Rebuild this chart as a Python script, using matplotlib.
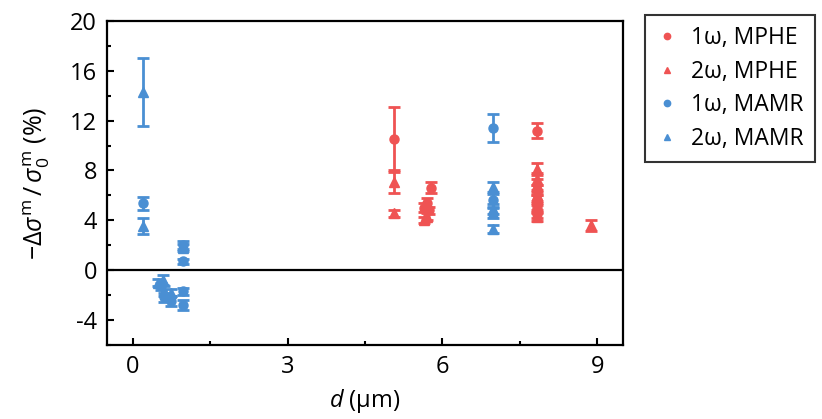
import matplotlib
matplotlib.use('Agg')
import matplotlib.pyplot as plt
from matplotlib.ticker import MultipleLocator

plt.rcParams['font.family'] = ['Open Sans', 'DejaVu Sans']
plt.rcParams['mathtext.fontset'] = 'custom'
plt.rcParams['mathtext.rm'] = 'Open Sans'
plt.rcParams['mathtext.it'] = 'Open Sans:italic'
plt.rcParams['axes.unicode_minus'] = False

RED = '#EF5353'
BLUE = '#4A8FD3'

# 1w, MPHE (circles)
mphe1_x = [5.07, 5.78, 5.70, 5.65, 5.75, 7.83, 7.83, 7.83, 7.83, 7.83]
mphe1_y = [10.5, 6.6, 5.4, 5.0, 4.8, 11.2, 6.4, 5.6, 5.0, 4.5]
mphe1_err = [2.6, 0.45, 0.4, 0.35, 0.3, 0.6, 0.4, 0.4, 0.4, 0.35]

# 2w, MPHE (triangles)
mphe2_x = [5.07, 5.07, 5.65, 5.70, 7.83, 7.83, 7.83, 7.83, 7.83, 8.88]
mphe2_y = [7.1, 4.55, 4.0, 4.3, 8.1, 7.3, 6.8, 6.0, 4.3, 3.6]
mphe2_err = [0.9, 0.25, 0.25, 0.3, 0.5, 0.5, 0.5, 0.45, 0.35, 0.45]

# 1w, MAMR (circles)
mamr1_x = [0.20, 0.97, 0.97, 0.55, 0.60, 0.75, 0.97, 0.97, 6.98, 6.98]
mamr1_y = [5.35, 0.7, 2.0, -1.3, -2.2, -2.5, -1.7, -2.8, 11.4, 5.6]
mamr1_err = [0.55, 0.2, 0.3, 0.3, 0.4, 0.4, 0.3, 0.4, 1.1, 0.5]

# 2w, MAMR (triangles)
mamr2_x = [0.20, 0.20, 0.97, 0.50, 0.58, 0.60, 0.75, 6.98, 6.98, 6.98, 6.98]
mamr2_y = [14.3, 3.55, 1.8, -1.0, -0.8, -1.7, -1.8, 6.7, 4.9, 4.6, 3.3]
mamr2_err = [2.7, 0.65, 0.3, 0.3, 0.4, 0.4, 0.3, 0.4, 0.4, 0.4, 0.3]

labels = ['1ω, MPHE', '2ω, MPHE', '1ω, MAMR', '2ω, MAMR']

fig = plt.figure(figsize=(8.22, 4.19), dpi=100)
ax = fig.add_axes([0.130, 0.177, 0.628, 0.773])

ax.axhline(0, color='black', lw=1.6, zorder=1)

series = [
    (mphe1_x, mphe1_y, mphe1_err, RED, 'o'),
    (mphe2_x, mphe2_y, mphe2_err, RED, '^'),
    (mamr1_x, mamr1_y, mamr1_err, BLUE, 'o'),
    (mamr2_x, mamr2_y, mamr2_err, BLUE, '^'),
]
conts = []
for x, y, e, c, m in series:
    cont = ax.errorbar(x, y, yerr=e, fmt=m, color=c, ms=6.5, capsize=4.5,
                       elinewidth=2, capthick=2, zorder=3)
    conts.append(cont)

ax.set_xlim(-0.5, 9.5)
ax.set_ylim(-6, 20)
ax.xaxis.set_major_locator(MultipleLocator(3))
ax.xaxis.set_minor_locator(MultipleLocator(1.5))
ax.yaxis.set_major_locator(MultipleLocator(4))
ax.yaxis.set_minor_locator(MultipleLocator(2))
ax.tick_params(which='both', direction='in', width=1.5, labelsize=17,
               top=False, right=False)
ax.tick_params(which='major', length=5, pad=7)
ax.tick_params(which='minor', length=3)
for s in ax.spines.values():
    s.set_linewidth(1.6)

ax.set_xlabel(r'$\mathit{d}$ (μm)', fontsize=17, labelpad=6)
ax.set_ylabel(r'$-\mathit{\Delta\sigma}^{\rm m}\,/\,\mathit{\sigma}_{\rm 0}^{\rm m}$ (%)',
              fontsize=18, labelpad=13)

leg = fig.legend(handles=[c.lines[0] for c in conts], labels=labels,
                 loc='upper left', bbox_to_anchor=(0.785, 0.965),
                 fontsize=16.5, frameon=True, fancybox=False, markerscale=0.7,
                 handlelength=0.9, handletextpad=0.6, labelspacing=0.42,
                 borderpad=0.5, borderaxespad=0)
leg.get_frame().set_edgecolor('black')
leg.get_frame().set_linewidth(1.5)

fig.savefig('out.png', dpi=100)
